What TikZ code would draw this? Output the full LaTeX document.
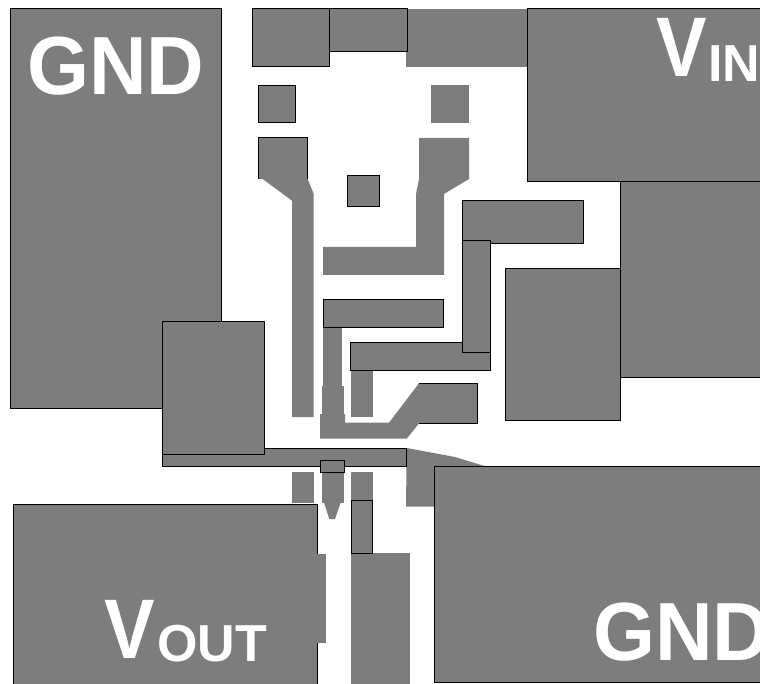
\documentclass[tikz,border=0pt]{standalone}
\usepackage{graphicx}
\usepackage{fontspec}
\setmainfont{Liberation Sans}
\definecolor{pad}{RGB}{125,125,125}
\tikzset{
  fillshape/.style={fill=pad,draw=none},
  edge/.style={draw=black,line width=0.75pt,line cap=butt},
  big/.style={text=white,font=\bfseries\fontsize{59.8}{60}\selectfont,inner sep=0pt,anchor=base west},
  sub/.style={text=white,font=\bfseries\fontsize{39}{39}\selectfont,inner sep=0pt,anchor=base west}
}
\newcommand{\padbox}[4]{\fill[pad] (#1,#2) rectangle (#3,#4); \draw[edge] (#1,#2) rectangle (#3,#4);}
\newcommand{\plainbox}[4]{\fill[pad] (#1,#2) rectangle (#3,#4);}
\newcommand{\tallV}{\scalebox{0.95}[1.06]{V}}
\newcommand{\tallG}{\scalebox{1}[1.035]{GND}}
\begin{document}
\begin{tikzpicture}[x=0.75pt,y=-0.75pt]
\useasboundingbox (0,0) rectangle (760,684);
\begin{scope}
\clip (0,0) rectangle (760,684);
% unoutlined copper
\plainbox{406}{9}{527}{67}
\plainbox{431}{85}{469}{123}
\fill[fillshape] (258,138) -- (307.7,138) -- (307.7,179) -- (313.7,194) -- (313.7,417) -- (292,417) -- (292,200.7) -- (262.7,179) -- (258,179) -- cycle;
\fill[fillshape] (419,138) -- (469,138) -- (469,179) -- (444,194) -- (444,275) -- (323,275) -- (323,247) -- (416,247) -- (416,194) -- (419,179) -- cycle;
\plainbox{323}{327}{342}{387}
\plainbox{322}{386}{344}{415}
\plainbox{351}{371}{373}{417}
\fill[fillshape] (320,414) -- (345,414) -- (345,422.7) -- (389,422.7) -- (419,383.3) -- (477.7,383.3) -- (477.7,423) -- (419.3,423) -- (406.7,438.7) -- (320,438.7) -- cycle;
\fill[fillshape] (406.7,448) -- (455,457) -- (486.7,466.7) -- (434.3,466.7) -- (434.3,506.7) -- (406,506.7) -- cycle;
\plainbox{292}{472}{314}{503}
\plainbox{322}{472}{344}{503}
\fill[fillshape] (324,502.5) -- (340.7,502.5) -- (335,519) -- (329.3,519) -- cycle;
\plainbox{351}{472}{373}{501}
\plainbox{351}{553.3}{410}{684}
% outlined copper
\padbox{10}{9}{221}{408}
\padbox{527}{9}{770}{182}
\padbox{620}{182}{770}{377}
\padbox{505.5}{268.5}{620}{420}
\padbox{252}{8.5}{329}{67}
\padbox{329}{8.5}{407}{52}
\padbox{258}{85.5}{295.5}{123}
\padbox{347.7}{175.3}{379}{206.7}
\padbox{462.3}{200.3}{583.3}{243.7}
\padbox{350.7}{342.7}{490.3}{370.7}
\padbox{462.3}{240.7}{490.3}{352.3}
\padbox{323}{299.3}{443.7}{327.3}
\padbox{162}{448}{406.7}{466.5}
\padbox{162}{321}{264.3}{454.3}
\padbox{320}{460.3}{344.7}{472.7}
\padbox{351}{500.3}{372.7}{553.3}
\padbox{13}{504}{317}{695}
\padbox{434.3}{466.7}{775}{682.7}
\plainbox{316}{553.8}{326}{642.7}
\draw[edge] (258,179) -- (258,138) -- (307.7,138) -- (307.7,179);
\draw[edge] (477.7,383.3) -- (419,383.3);
\draw[edge] (419.3,423) -- (477.7,423) -- (477.7,383.3);
% labels
\node[big] (gndtop) at (27,95) {\tallG};
\node[big] (vintop) at (656.5,77) {\tallV};
\node[sub] (vinsub) at (708,81.5) {IN};
\node[big] (voutv) at (104.5,658) {\tallV};
\node[sub] (voutsub) at (157,661.5) {OUT};
\node[big] (gndbot) at (593,660) {\tallG};
\end{scope}
\end{tikzpicture}
\end{document}
